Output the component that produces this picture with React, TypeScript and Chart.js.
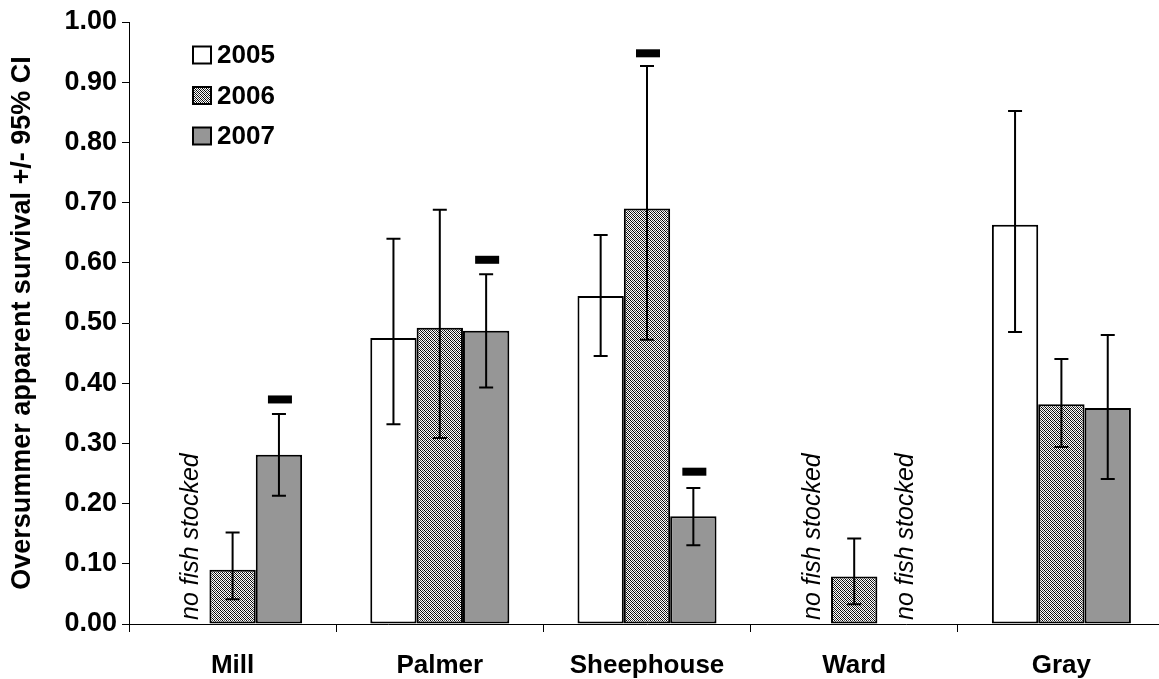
import React, { useEffect, useRef } from "react";
import { Chart, registerables } from "chart.js";

Chart.register(...registerables);

const categories = ["Mill", "Palmer", "Sheephouse", "Ward", "Gray"];
const seriesLabels = ["2005", "2006", "2007"];

const values2005 = [null, 0.475, 0.545, null, 0.663];
const lower2005 = [null, 0.332, 0.445, null, 0.485];
const upper2005 = [null, 0.64, 0.646, null, 0.852];

const values2006 = [0.09, 0.492, 0.69, 0.079, 0.365];
const lower2006 = [0.041, 0.309, 0.472, 0.033, 0.294];
const upper2006 = [0.152, 0.688, 0.927, 0.142, 0.44];

const values2007 = [0.281, 0.487, 0.179, null, 0.359];
const lower2007 = [0.213, 0.393, 0.131, null, 0.241];
const upper2007 = [0.349, 0.581, 0.226, null, 0.48];

// black dash markers above some bars
const marks2005 = [null, null, null, null, null];
const marks2006 = [null, null, 0.948, null, null];
const marks2007 = [0.373, 0.605, 0.253, null, null];

// [series index, category index] where no fish were stocked
const notStocked = [
  [0, 0],
  [0, 3],
  [2, 3],
];
const noteText = "no fish stocked";
const yTitle = "Oversummer apparent survival +/- 95% CI";

const FONT = "'Liberation Sans', Arial, sans-serif";

function makePattern(): CanvasPattern | string {
  const c = document.createElement("canvas");
  c.width = 4;
  c.height = 4;
  const g = c.getContext("2d");
  if (!g) return "#999";
  g.fillStyle = "#ffffff";
  g.fillRect(0, 0, 4, 4);
  for (let x = 0; x < 4; x++) {
    for (let y = 0; y < 4; y++) {
      if ((x + y) % 2 !== 0) continue;
      const d = (x - y + 8) % 4;
      g.fillStyle = d === 2 ? "#000000" : "#4a4a4a";
      g.fillRect(x, y, 1, 1);
    }
  }
  return g.createPattern(c, "repeat") || "#999";
}

const overlayPlugin = {
  id: "overlay",
  afterDatasetsDraw(chart: any) {
    const ctx = chart.ctx as CanvasRenderingContext2D;
    const ys = chart.scales.y;
    chart.data.datasets.forEach((ds: any, i: number) => {
      const meta = chart.getDatasetMeta(i);
      meta.data.forEach((bar: any, j: number) => {
        const x = bar.x;
        const lo = ds.errLow[j];
        const hi = ds.errHigh[j];
        if (lo != null && hi != null) {
          const yl = ys.getPixelForValue(lo);
          const yh = ys.getPixelForValue(hi);
          ctx.save();
          ctx.strokeStyle = "#000";
          ctx.lineWidth = 2;
          ctx.beginPath();
          ctx.moveTo(x, yl);
          ctx.lineTo(x, yh);
          ctx.moveTo(x - 7, yl);
          ctx.lineTo(x + 7, yl);
          ctx.moveTo(x - 7, yh);
          ctx.lineTo(x + 7, yh);
          ctx.stroke();
          ctx.restore();
        }
        const m = ds.marks[j];
        if (m != null) {
          const ym = ys.getPixelForValue(m);
          ctx.save();
          ctx.fillStyle = "#000";
          ctx.fillRect(x - 11, ym - 4, 24, 8);
          ctx.restore();
        }
      });
    });
    // "no fish stocked" notes
    notStocked.forEach(([s, c]) => {
      const meta = chart.getDatasetMeta(s);
      const el = meta.data[c];
      if (!el) return;
      const x = el.x + 12;
      const y = ys.getPixelForValue(0) - 4;
      ctx.save();
      ctx.translate(x, y);
      ctx.rotate(-Math.PI / 2);
      ctx.fillStyle = "#000";
      ctx.font = `italic 25px ${FONT}`;
      ctx.textAlign = "left";
      ctx.textBaseline = "alphabetic";
      ctx.fillText(noteText, 0, 0);
      ctx.restore();
    });
  },
  afterDraw(chart: any) {
    const ctx = chart.ctx as CanvasRenderingContext2D;
    const rows = [55, 95.5, 136];
    chart.data.datasets.forEach((ds: any, i: number) => {
      const cy = rows[i];
      ctx.save();
      ctx.fillStyle = ds.backgroundColor;
      ctx.fillRect(193, cy - 8.5, 18, 17);
      ctx.strokeStyle = "#000";
      ctx.lineWidth = 2;
      ctx.strokeRect(193, cy - 8.5, 18, 17);
      ctx.fillStyle = "#000";
      ctx.font = `bold 26px ${FONT}`;
      ctx.textAlign = "left";
      ctx.textBaseline = "middle";
      ctx.fillText(ds.label, 217, cy + 1);
      ctx.restore();
    });
  },
};

export default function App() {
  const ref = useRef<HTMLCanvasElement | null>(null);

  useEffect(() => {
    const canvas = ref.current;
    if (!canvas) return;
    const pattern = makePattern();
    const fills: any[] = ["#ffffff", pattern, "#969696"];
    const vals = [values2005, values2006, values2007];
    const lows = [lower2005, lower2006, lower2007];
    const highs = [upper2005, upper2006, upper2007];
    const marks = [marks2005, marks2006, marks2007];

    const chart = new Chart(canvas, {
      type: "bar",
      data: {
        labels: categories,
        datasets: seriesLabels.map((label, i) => ({
          label,
          data: vals[i],
          backgroundColor: fills[i],
          borderColor: "#000",
          borderWidth: 2,
          borderSkipped: false,
          categoryPercentage: 0.671,
          barPercentage: 1,
          errLow: lows[i],
          errHigh: highs[i],
          marks: marks[i],
        })) as any,
      },
      options: {
        responsive: false,
        animation: false,
        devicePixelRatio: 1,
        layout: { padding: { left: 0, right: 5, top: 22, bottom: 0 } },
        plugins: {
          legend: { display: false },
          tooltip: { enabled: false },
        },
        scales: {
          x: {
            offset: true,
            grid: {
              offset: true,
              drawOnChartArea: false,
              drawTicks: true,
              tickLength: 8,
              color: "#000",
              lineWidth: 1,
            },
            border: { display: true, color: "#000", width: 1 },
            ticks: {
              color: "#000",
              padding: 18,
              maxRotation: 0,
              autoSkip: false,
              font: { family: FONT, size: 26, weight: "bold" },
            },
            afterFit: (scale: any) => {
              scale.height = 55;
            },
          },
          y: {
            min: 0,
            max: 1,
            grid: {
              drawOnChartArea: false,
              drawTicks: true,
              tickLength: 7,
              color: "#000",
              lineWidth: 1,
            },
            border: { display: true, color: "#000", width: 1 },
            ticks: {
              stepSize: 0.1,
              color: "#000",
              padding: 5,
              font: { family: FONT, size: 27, weight: "bold" },
              callback: (v: any) => Number(v).toFixed(2),
            },
            title: {
              display: true,
              text: yTitle,
              color: "#000",
              padding: { top: 6, bottom: 0 },
              font: { family: FONT, size: 27, weight: "bold" },
            },
            afterFit: (scale: any) => {
              scale.width = 129;
            },
          },
        },
      } as any,
      plugins: [overlayPlugin],
    });
    return () => chart.destroy();
  }, []);

  return (
    <div
      style={{
        position: "fixed",
        left: 0,
        top: 0,
        width: 1159,
        height: 679,
        overflow: "hidden",
        background: "#fff",
      }}
    >
      <canvas
        ref={ref}
        width={1170}
        height={679}
        style={{ display: "block", width: 1170, height: 679 }}
      />
    </div>
  );
}
